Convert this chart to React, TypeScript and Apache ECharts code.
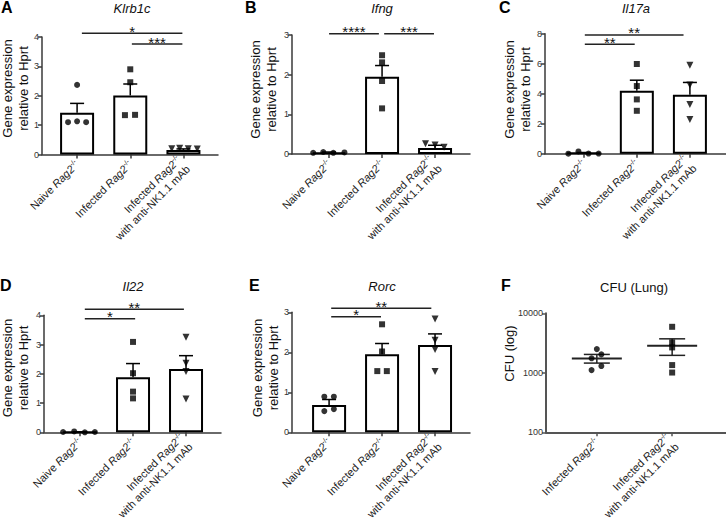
import React, { useEffect, useRef } from 'react';
import * as echarts from 'echarts';

const FONT = '"Liberation Sans", Arial, Helvetica, sans-serif';

// ---------- tick labels ----------
const groupLabels3 = [
  'Naive {i|Rag2}{s|-/-}',
  'Infected {i|Rag2}{s|-/-}',
  'Infected {i|Rag2}{s|-/-}\nwith anti-NK1.1 mAb',
];
const groupLabels2 = [
  'Infected {i|Rag2}{s|-/-}',
  'Infected {i|Rag2}{s|-/-}\nwith anti-NK1.1 mAb',
];
const geneTicks4 = [0, 1, 2, 3, 4];
const geneTicks3 = [0, 1, 2, 3];
const geneTicks8 = [0, 2, 4, 6, 8];

// ---------- A: Klrb1c ----------
const klrb1cMeans = [1.42, 2.01, 0.15];
const klrb1cSem = [0.32, 0.39, 0.04];
const klrb1cNaive = [[-0.17, 1.1], [0, 1.13], [0.17, 1.1], [0, 2.37]];
const klrb1cInfected = [[0, 2.9], [0, 2.46], [-0.1, 1.34], [0.09, 1.35]];
const klrb1cAnti = [[-0.22, 0.2], [-0.07, 0.21], [0.09, 0.2], [0.26, 0.19]];
const klrb1cSig = [[0.09, 1.98, 4.13], [1.03, 1.98, 3.76]];
const klrb1cStars = ['*', '***'];

// ---------- B: Ifng ----------
const ifngMeans = [0.04, 1.95, 0.15];
const ifngSem = [0.01, 0.28, 0.07];
const ifngNaive = [[-0.3, 0.03], [-0.11, 0.05], [0.08, 0.03], [0.29, 0.04]];
const ifngInfected = [[0, 2.49], [0, 2.31], [0, 1.84], [0, 1.15]];
const ifngAnti = [[-0.18, 0.26], [0, 0.23], [0.17, 0.17]];
const ifngSig = [[0, 0.94, 3.03], [1.04, 1.98, 3.03]];
const ifngStars = ['****', '***'];

// ---------- C: Il17a ----------
const il17aMeans = [0.05, 4.2, 3.93];
const il17aSem = [0.03, 0.7, 0.82];
const il17aNaive = [[-0.29, 0.0], [-0.1, 0.15], [0.09, 0.01], [0.28, 0.01]];
const il17aInfected = [[0, 5.98], [0, 4.51], [0, 3.62], [0, 2.86]];
const il17aAnti = [[0, 5.89], [0, 4.58], [0, 3.28], [0, 2.28]];
const il17aSig = [[0.02, 1.88, 7.92], [0.02, 0.96, 7.29]];
const il17aStars = ['**', '**'];

// ---------- D: Il22 ----------
const il22Means = [0.01, 1.88, 2.16];
const il22Sem = [0.005, 0.47, 0.46];
const il22Naive = [[-0.32, 0.01], [-0.11, 0.03], [0.09, 0.0], [0.28, 0.01]];
const il22Infected = [[0, 3.09], [0, 2.02], [0, 1.39], [0, 1.16]];
const il22Anti = [[0, 3.25], [0, 2.36], [0, 2.08], [0, 1.14]];
const il22Sig = [[0.09, 1.04, 3.88], [0.09, 1.96, 4.21]];
const il22Stars = ['*', '**'];

// ---------- E: Rorc ----------
const rorcMeans = [0.68, 1.95, 2.18];
const rorcSem = [0.14, 0.27, 0.28];
const rorcNaive = [[-0.09, 0.89], [0.09, 0.89], [-0.09, 0.53], [0.09, 0.58]];
const rorcInfected = [[0, 2.7], [0, 2.02], [-0.09, 1.53], [0.09, 1.53]];
const rorcAnti = [[0, 2.83], [0, 2.3], [0, 2.07], [0, 1.52]];
const rorcSig = [[0.04, 0.98, 2.89], [0.04, 1.93, 3.1]];
const rorcStars = ['*', '**'];

// ---------- F: CFU (Lung) ----------
const cfuMeans = [1746, 2844];
const cfuSem = [290, 880];
const cfuInfected = [[0, 2500], [0.06, 2040], [-0.07, 1750], [0.06, 1297], [-0.07, 1110]];
const cfuAnti = [[0, 5930], [0, 3245], [0, 2672], [0, 1348], [0, 1010]];

// ---------- layout (positions only) ----------
const AXIS = '#3a3a3a';

type Panel = {
  letter: string;
  title: string;
  italic: boolean;
  yName: string;
  cats: string[];
  log?: boolean;
  yMax?: number;
  yInterval?: number;
  means: number[];
  sem: number[];
  groups: number[][][];
  symbols: string[];
  sig: number[][];
  stars: string[];
  grid: { left: number; top: number; width: number; height: number };
  xMin: number;
  xMax: number;
  letterPos: number[];
  titlePos: number[];
  yNamePos: number[];
};

const panels: Panel[] = [
  {
    letter: 'A', title: 'Klrb1c', italic: true, yName: 'Gene expression\nrelative to Hprt',
    cats: groupLabels3, yMax: geneTicks4[geneTicks4.length - 1], yInterval: 1,
    means: klrb1cMeans, sem: klrb1cSem, groups: [klrb1cNaive, klrb1cInfected, klrb1cAnti],
    symbols: ['circle', 'rect', 'triangle'], sig: klrb1cSig, stars: klrb1cStars,
    grid: { left: 42, top: 37, width: 176, height: 117.5 }, xMin: -0.66, xMax: 2.65,
    letterPos: [1, 7.5], titlePos: [132, 8.5], yNamePos: [15, 88.5],
  },
  {
    letter: 'B', title: 'Ifng', italic: true, yName: 'Gene expression\nrelative to Hprt',
    cats: groupLabels3, yMax: geneTicks3[geneTicks3.length - 1], yInterval: 1,
    means: ifngMeans, sem: ifngSem, groups: [ifngNaive, ifngInfected, ifngAnti],
    symbols: ['circle', 'rect', 'triangle'], sig: ifngSig, stars: ifngStars,
    grid: { left: 292, top: 35, width: 178, height: 119 }, xMin: -0.7, xMax: 2.66,
    letterPos: [245, 7.5], titlePos: [382, 8.5], yNamePos: [263, 89.5],
  },
  {
    letter: 'C', title: 'Il17a', italic: true, yName: 'Gene expression\nrelative to Hprt',
    cats: groupLabels3, yMax: geneTicks8[geneTicks8.length - 1], yInterval: 2,
    means: il17aMeans, sem: il17aSem, groups: [il17aNaive, il17aInfected, il17aAnti],
    symbols: ['circle', 'rect', 'triangle'], sig: il17aSig, stars: il17aStars,
    grid: { left: 545, top: 33.7, width: 181, height: 120 }, xMin: -0.73, xMax: 2.68,
    letterPos: [499, 7.5], titlePos: [636, 8.5], yNamePos: [517.5, 89.5],
  },
  {
    letter: 'D', title: 'Il22', italic: true, yName: 'Gene expression\nrelative to Hprt',
    cats: groupLabels3, yMax: geneTicks4[geneTicks4.length - 1], yInterval: 1,
    means: il22Means, sem: il22Sem, groups: [il22Naive, il22Infected, il22Anti],
    symbols: ['circle', 'rect', 'triangle'], sig: il22Sig, stars: il22Stars,
    grid: { left: 44, top: 315.3, width: 177, height: 117 }, xMin: -0.68, xMax: 2.66,
    letterPos: [0, 285.5], titlePos: [133, 286.5], yNamePos: [15, 368],
  },
  {
    letter: 'E', title: 'Rorc', italic: true, yName: 'Gene expression\nrelative to Hprt',
    cats: groupLabels3, yMax: geneTicks3[geneTicks3.length - 1], yInterval: 1,
    means: rorcMeans, sem: rorcSem, groups: [rorcNaive, rorcInfected, rorcAnti],
    symbols: ['circle', 'rect', 'triangle'], sig: rorcSig, stars: rorcStars,
    grid: { left: 292, top: 312.3, width: 178, height: 120 }, xMin: -0.7, xMax: 2.66,
    letterPos: [249, 285.5], titlePos: [382, 286.5], yNamePos: [265, 368],
  },
  {
    letter: 'F', title: 'CFU (Lung)', italic: false, yName: 'CFU (log)',
    cats: groupLabels2, log: true,
    means: cfuMeans, sem: cfuSem, groups: [cfuInfected, cfuAnti],
    symbols: ['circle', 'rect'], sig: [], stars: [],
    grid: { left: 546, top: 313.3, width: 180, height: 119 }, xMin: -0.675, xMax: 1.715,
    letterPos: [501, 285.5], titlePos: [634, 287.5], yNamePos: [509, 353.5],
  },
];

const labelRich = {
  i: { fontStyle: 'italic', fontSize: 11, fontFamily: FONT, color: '#222' },
  s: { fontSize: 7, fontFamily: FONT, color: '#222', verticalAlign: 'top' },
};

function buildOption() {
  const grid: any[] = [];
  const xAxis: any[] = [];
  const yAxis: any[] = [];
  const series: any[] = [];
  const graphic: any[] = [];

  panels.forEach((p, i) => {
    const axisColor = p.log ? '#555' : AXIS;
    const axisWidth = p.log ? 2 : 1.5;
    grid.push({ ...p.grid, containLabel: false });
    const catIdx = p.cats.map((_, k) => k);
    xAxis.push({
      gridIndex: i,
      type: 'value',
      min: p.xMin,
      max: p.xMax,
      splitLine: { show: false },
      axisLine: { show: true, onZero: false, lineStyle: { color: axisColor, width: axisWidth } },
      axisTick: { show: true, customValues: catIdx, length: 4, lineStyle: { color: axisColor, width: 1.5 } },
      axisLabel: {
        show: true,
        customValues: catIdx,
        formatter: (v: number) => p.cats[Math.round(v)] ?? '',
        rotate: 45,
        fontSize: 11,
        fontFamily: FONT,
        color: '#222',
        margin: 8,
        lineHeight: 13,
        rich: labelRich,
      },
    });
    if (p.log) {
      yAxis.push({
        gridIndex: i,
        type: 'log',
        logBase: 10,
        min: 100,
        max: 10000,
        splitLine: { show: false },
        minorTick: { show: false },
        axisLine: { show: true, onZero: false, lineStyle: { color: axisColor, width: axisWidth } },
        axisTick: { show: true, length: 4, lineStyle: { color: axisColor, width: 1.5 } },
        axisLabel: { fontSize: 9, fontFamily: FONT, color: '#333', margin: 3, formatter: (v: number) => String(Math.round(v)) },
      });
    } else {
      yAxis.push({
        gridIndex: i,
        type: 'value',
        min: 0,
        max: p.yMax,
        interval: p.yInterval,
        splitLine: { show: false },
        axisLine: { show: true, onZero: false, lineStyle: { color: axisColor, width: axisWidth } },
        axisTick: { show: true, length: 4, lineStyle: { color: axisColor, width: 1.5 } },
        axisLabel: { fontSize: 9, fontFamily: FONT, color: '#333', margin: 3 },
      });
    }

    if (!p.log) {
      series.push({
        type: 'bar',
        xAxisIndex: i,
        yAxisIndex: i,
        barWidth: 34,
        data: p.means.map((m, k) => [k, m]),
        itemStyle: { color: '#fff', borderColor: '#000', borderWidth: 2 },
        z: 2,
      });
      series.push({
        type: 'custom',
        xAxisIndex: i,
        yAxisIndex: i,
        data: p.means.map((m, k) => [k, m, p.sem[k]]),
        z: 3,
        clip: false,
        renderItem: (_params: any, api: any) => {
          const x = api.value(0);
          const m = api.value(1);
          const s = api.value(2);
          const base = api.coord([x, m]);
          const top = api.coord([x, m + s]);
          return {
            type: 'group',
            children: [
              { type: 'line', shape: { x1: base[0], y1: base[1], x2: top[0], y2: top[1] }, style: { stroke: '#000', lineWidth: 1.5 } },
              { type: 'line', shape: { x1: top[0] - 7, y1: top[1], x2: top[0] + 7, y2: top[1] }, style: { stroke: '#000', lineWidth: 1.5 } },
            ],
          };
        },
      });
    } else {
      series.push({
        type: 'custom',
        xAxisIndex: i,
        yAxisIndex: i,
        data: p.means.map((m, k) => [k, m, p.sem[k]]),
        z: 3,
        clip: false,
        renderItem: (_params: any, api: any) => {
          const x = api.value(0);
          const m = api.value(1);
          const s = api.value(2);
          const mid = api.coord([x, m]);
          const hi = api.coord([x, m + s]);
          const lo = api.coord([x, m - s]);
          const st = { stroke: '#222', lineWidth: 2 };
          return {
            type: 'group',
            children: [
              { type: 'line', shape: { x1: mid[0] - 25, y1: mid[1], x2: mid[0] + 25, y2: mid[1] }, style: st },
              { type: 'line', shape: { x1: mid[0], y1: lo[1], x2: mid[0], y2: hi[1] }, style: { stroke: '#222', lineWidth: 1.5 } },
              { type: 'line', shape: { x1: mid[0] - 13, y1: hi[1], x2: mid[0] + 13, y2: hi[1] }, style: { stroke: '#222', lineWidth: 1.5 } },
              { type: 'line', shape: { x1: mid[0] - 13, y1: lo[1], x2: mid[0] + 13, y2: lo[1] }, style: { stroke: '#222', lineWidth: 1.5 } },
            ],
          };
        },
      });
    }

    p.groups.forEach((pts, k) => {
      const sym = p.symbols[k];
      series.push({
        type: 'scatter',
        xAxisIndex: i,
        yAxisIndex: i,
        symbol: sym,
        symbolRotate: sym === 'triangle' ? 180 : 0,
        symbolSize: sym === 'triangle' ? 7 : 6,
        itemStyle: { color: '#000' },
        clip: false,
        z: 5,
        data: pts.map(([o, v]) => [k + o, v]),
      });
    });

    if (p.sig.length) {
      const stars = p.stars;
      series.push({
        type: 'custom',
        xAxisIndex: i,
        yAxisIndex: i,
        clip: false,
        z: 4,
        data: p.sig,
        renderItem: (params: any, api: any) => {
          const a = api.coord([api.value(0), api.value(2)]);
          const b = api.coord([api.value(1), api.value(2)]);
          return {
            type: 'group',
            children: [
              { type: 'line', shape: { x1: a[0], y1: a[1], x2: b[0], y2: b[1] }, style: { stroke: '#222', lineWidth: 1.5 } },
              {
                type: 'text',
                x: (a[0] + b[0]) / 2,
                y: a[1] - 2,
                style: {
                  text: stars[params.dataIndex],
                  fontSize: 15,
                  fontFamily: FONT,
                  fill: '#111',
                  textAlign: 'center',
                  textVerticalAlign: 'middle',
                },
              },
            ],
          };
        },
      });
    }

    graphic.push({
      type: 'text',
      x: p.letterPos[0],
      y: p.letterPos[1],
      style: { text: p.letter, fontSize: 16, fontWeight: 'bold', fontFamily: FONT, fill: '#000', textAlign: 'left', textVerticalAlign: 'middle' },
    });
    graphic.push({
      type: 'text',
      x: p.titlePos[0],
      y: p.titlePos[1],
      style: {
        text: p.title,
        fontSize: 13,
        fontStyle: p.italic ? 'italic' : 'normal',
        fontFamily: FONT,
        fill: '#111',
        textAlign: 'center',
        textVerticalAlign: 'middle',
      },
    });
    graphic.push({
      type: 'text',
      x: p.yNamePos[0],
      y: p.yNamePos[1],
      rotation: Math.PI / 2,
      style: {
        text: p.yName,
        fontSize: 13,
        lineHeight: 16,
        fontFamily: FONT,
        fill: '#111',
        textAlign: 'center',
        textVerticalAlign: 'middle',
      },
    });
  });

  return {
    animation: false,
    backgroundColor: '#fff',
    textStyle: { fontFamily: FONT },
    grid,
    xAxis,
    yAxis,
    series,
    graphic,
  };
}

export default function App() {
  const ref = useRef<HTMLDivElement>(null);
  useEffect(() => {
    document.body.style.margin = '0';
    if (!ref.current) return;
    const chart = echarts.init(ref.current, undefined, { renderer: 'svg' });
    chart.setOption(buildOption() as any);
    return () => {
      chart.dispose();
    };
  }, []);
  return <div ref={ref} style={{ width: 726, height: 529, position: 'absolute', left: 0, top: 0 }} />;
}
